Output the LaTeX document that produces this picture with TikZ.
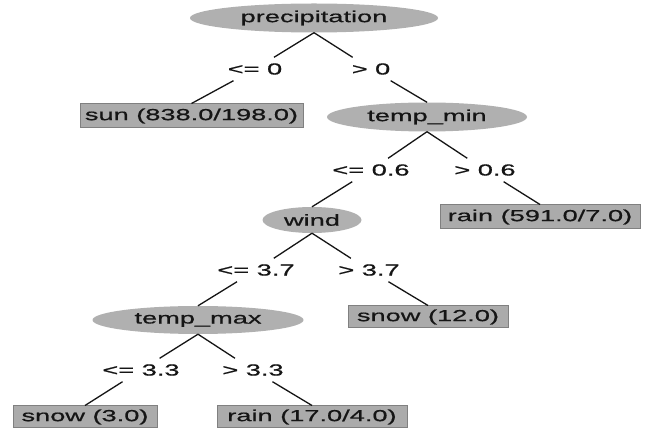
\documentclass[tikz,border=0pt]{standalone}
\usepackage{fontspec}
\setmainfont[FakeStretch=1.7, FakeBold=0.8]{Liberation Sans}
\usetikzlibrary{shapes.geometric}
\definecolor{ellfill}{HTML}{B0B0B0}
\definecolor{boxfill}{HTML}{ABABAB}
\definecolor{boxline}{HTML}{808080}
\definecolor{ink}{HTML}{151515}
\begin{document}
\begin{tikzpicture}[x=1pt,y=-1pt,
  every node/.style={font=\fontsize{16}{19}\selectfont, text=ink},
  attr/.style={ellipse, fill=ellfill, inner sep=0pt},
  leaf/.style={rectangle, fill=boxfill, draw=boxline, line width=1pt, inner sep=0pt},
  cond/.style={rectangle, inner sep=0pt, minimum height=23pt, minimum width=40pt},
  edge/.style={draw=ink, line width=1.3pt}]
\useasboundingbox (0,0) rectangle (646,430);
\fill[white] (0,0) rectangle (646,430);
% decision nodes
\node[attr, minimum width=248pt, minimum height=29pt] (prec) at (314,18) {precipitation};
\node[attr, minimum width=200pt, minimum height=29pt] (tmin) at (427,117) {temp\_min};
\node[attr, minimum width=99pt, minimum height=26pt] (wind) at (312,220) {wind};
\node[attr, minimum width=211pt, minimum height=28pt] (tmax) at (198,320) {temp\_max};
% leaves
\node[leaf, minimum width=223pt, minimum height=24pt] (sun) at (191.5,116) {sun (838.0/198.0)};
\node[leaf, minimum width=200pt, minimum height=24pt] (rainA) at (540,217) {rain (591.0/7.0)};
\node[leaf, minimum width=160pt, minimum height=22pt] (snowA) at (428,317) {snow (12.0)};
\node[leaf, minimum width=144pt, minimum height=22pt] (snowB) at (85,417) {snow (3.0)};
\node[leaf, minimum width=190pt, minimum height=22pt] (rainB) at (312,417) {rain (17.0/4.0)};
% condition labels
\node[cond] (c1) at (255,69) {<= 0};
\node[cond] (c2) at (371,69) {> 0};
\node[cond] (c3) at (371,170) {<= 0.6};
\node[cond] (c4) at (485,170) {> 0.6};
\node[cond] (c5) at (256,270) {<= 3.7};
\node[cond] (c6) at (369,270) {> 3.7};
\node[cond] (c7) at (141,370) {<= 3.3};
\node[cond] (c8) at (253,370) {> 3.3};
% edges
\path[edge] (prec.south) -- (c1);
\path[edge] (c1) -- (sun.north);
\path[edge] (prec.south) -- (c2);
\path[edge] (c2) -- (tmin.north);
\path[edge] (tmin.south) -- (c3);
\path[edge] (c3) -- (wind.north);
\path[edge] (tmin.south) -- (c4);
\path[edge] (c4) -- (rainA.north);
\path[edge] (wind.south) -- (c5);
\path[edge] (c5) -- (tmax.north);
\path[edge] (wind.south) -- (c6);
\path[edge] (c6) -- (snowA.north);
\path[edge] (tmax.south) -- (c7);
\path[edge] (c7) -- (snowB.north);
\path[edge] (tmax.south) -- (c8);
\path[edge] (c8) -- (rainB.north);
\end{tikzpicture}
\end{document}
